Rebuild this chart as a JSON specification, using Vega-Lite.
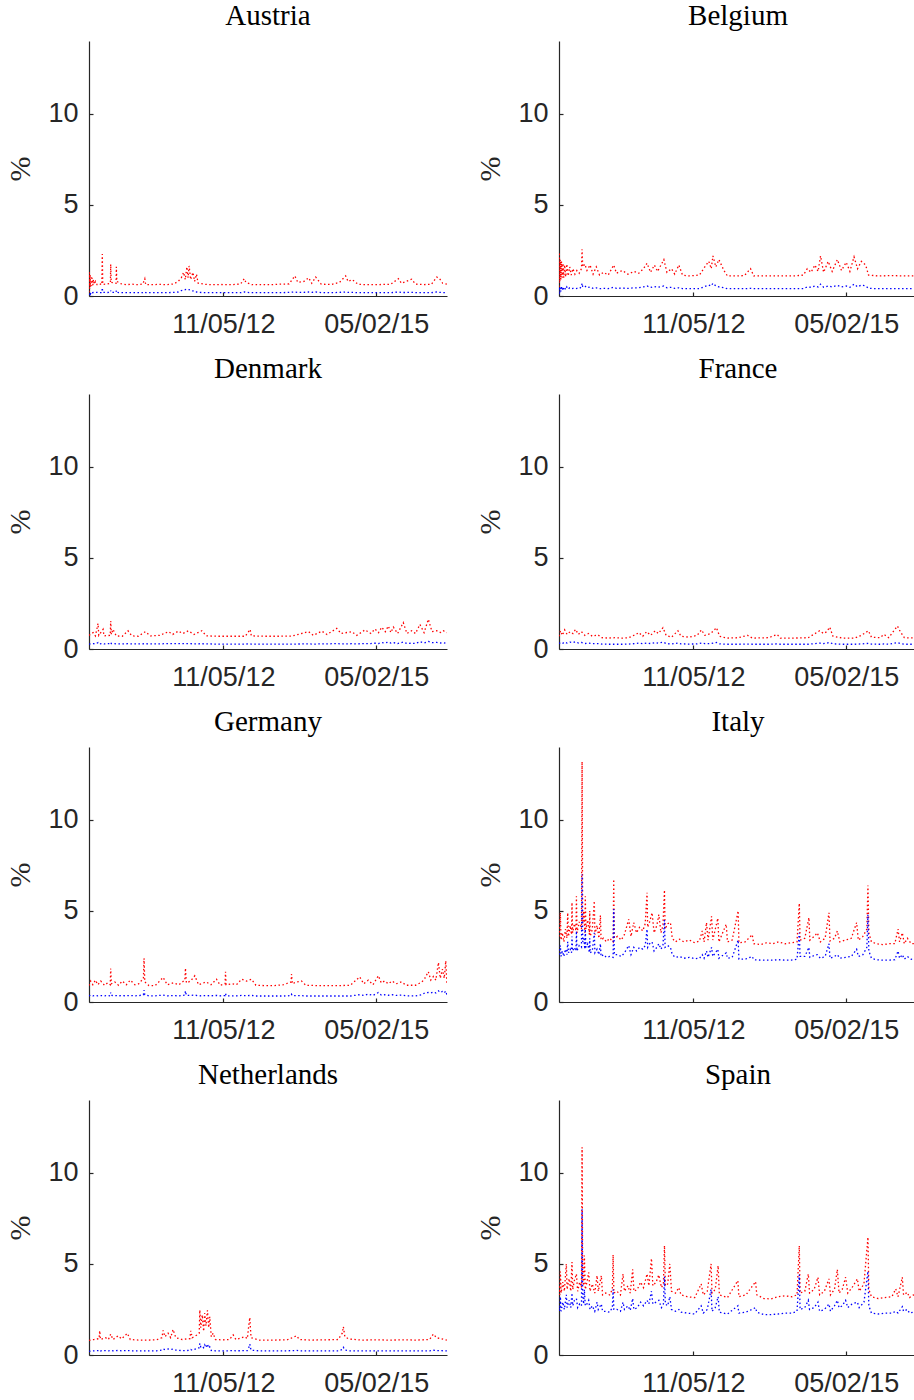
{
"$schema": "https://vega.github.io/schema/vega-lite/v6.json",
"padding": {"left": 5, "top": 2, "right": 0, "bottom": 0},
"background": "white",
"data": {"values": [
{"c":"Austria","d":"2009-12-14","r":0.2,"b":0.05},
{"c":"Austria","d":"2009-12-16","r":1.3,"b":0.1},
{"c":"Austria","d":"2009-12-18","r":0.4,"b":0.15},
{"c":"Austria","d":"2009-12-21","r":1.2,"b":0.2},
{"c":"Austria","d":"2009-12-24","r":0.5,"b":0.12},
{"c":"Austria","d":"2009-12-28","r":1.1,"b":0.22},
{"c":"Austria","d":"2009-12-31","r":0.55,"b":0.18},
{"c":"Austria","d":"2010-01-04","r":1.0,"b":0.2},
{"c":"Austria","d":"2010-01-08","r":0.6,"b":0.18},
{"c":"Austria","d":"2010-01-12","r":0.9,"b":0.2},
{"c":"Austria","d":"2010-01-18","r":0.65,"b":0.2},
{"c":"Austria","d":"2010-01-25","r":0.8,"b":0.2},
{"c":"Austria","d":"2010-02-05","r":0.62,"b":0.2},
{"c":"Austria","d":"2010-02-20","r":0.68,"b":0.18},
{"c":"Austria","d":"2010-03-08","r":0.62,"b":0.18},
{"c":"Austria","d":"2010-03-11","r":2.3,"b":0.45},
{"c":"Austria","d":"2010-03-14","r":0.64,"b":0.2},
{"c":"Austria","d":"2010-04-05","r":0.65,"b":0.19},
{"c":"Austria","d":"2010-05-03","r":0.7,"b":0.2},
{"c":"Austria","d":"2010-05-05","r":1.74,"b":0.3},
{"c":"Austria","d":"2010-05-08","r":0.75,"b":0.2},
{"c":"Austria","d":"2010-06-09","r":0.7,"b":0.2},
{"c":"Austria","d":"2010-06-11","r":1.6,"b":0.3},
{"c":"Austria","d":"2010-06-14","r":0.8,"b":0.2},
{"c":"Austria","d":"2010-07-10","r":0.68,"b":0.18},
{"c":"Austria","d":"2010-08-15","r":0.62,"b":0.18},
{"c":"Austria","d":"2010-09-20","r":0.65,"b":0.18},
{"c":"Austria","d":"2010-10-25","r":0.62,"b":0.18},
{"c":"Austria","d":"2010-12-01","r":0.66,"b":0.18},
{"c":"Austria","d":"2010-12-14","r":0.95,"b":0.22},
{"c":"Austria","d":"2010-12-20","r":0.62,"b":0.18},
{"c":"Austria","d":"2011-02-01","r":0.62,"b":0.18},
{"c":"Austria","d":"2011-03-15","r":0.64,"b":0.18},
{"c":"Austria","d":"2011-05-01","r":0.62,"b":0.18},
{"c":"Austria","d":"2011-06-20","r":0.66,"b":0.2},
{"c":"Austria","d":"2011-07-20","r":0.8,"b":0.22},
{"c":"Austria","d":"2011-08-10","r":1.0,"b":0.3},
{"c":"Austria","d":"2011-08-25","r":1.3,"b":0.32},
{"c":"Austria","d":"2011-09-05","r":0.9,"b":0.35},
{"c":"Austria","d":"2011-09-15","r":1.6,"b":0.38},
{"c":"Austria","d":"2011-09-23","r":1.0,"b":0.36},
{"c":"Austria","d":"2011-09-30","r":1.65,"b":0.35},
{"c":"Austria","d":"2011-10-10","r":0.9,"b":0.3},
{"c":"Austria","d":"2011-10-25","r":1.3,"b":0.28},
{"c":"Austria","d":"2011-11-05","r":0.8,"b":0.22},
{"c":"Austria","d":"2011-11-17","r":1.2,"b":0.22},
{"c":"Austria","d":"2011-11-28","r":0.7,"b":0.2},
{"c":"Austria","d":"2012-01-15","r":0.64,"b":0.18},
{"c":"Austria","d":"2012-03-01","r":0.62,"b":0.18},
{"c":"Austria","d":"2012-05-01","r":0.63,"b":0.18},
{"c":"Austria","d":"2012-07-01","r":0.62,"b":0.18},
{"c":"Austria","d":"2012-09-01","r":0.66,"b":0.18},
{"c":"Austria","d":"2012-09-25","r":0.95,"b":0.22},
{"c":"Austria","d":"2012-10-05","r":0.75,"b":0.2},
{"c":"Austria","d":"2012-11-15","r":0.62,"b":0.18},
{"c":"Austria","d":"2013-01-15","r":0.63,"b":0.18},
{"c":"Austria","d":"2013-03-15","r":0.62,"b":0.18},
{"c":"Austria","d":"2013-05-15","r":0.65,"b":0.18},
{"c":"Austria","d":"2013-07-15","r":0.66,"b":0.2},
{"c":"Austria","d":"2013-08-22","r":1.1,"b":0.22},
{"c":"Austria","d":"2013-09-10","r":0.75,"b":0.2},
{"c":"Austria","d":"2013-10-20","r":0.8,"b":0.2},
{"c":"Austria","d":"2013-11-20","r":1.0,"b":0.22},
{"c":"Austria","d":"2013-12-10","r":0.7,"b":0.2},
{"c":"Austria","d":"2014-01-05","r":1.04,"b":0.22},
{"c":"Austria","d":"2014-02-10","r":0.65,"b":0.19},
{"c":"Austria","d":"2014-04-15","r":0.63,"b":0.18},
{"c":"Austria","d":"2014-06-10","r":0.75,"b":0.2},
{"c":"Austria","d":"2014-07-20","r":1.1,"b":0.22},
{"c":"Austria","d":"2014-08-05","r":0.8,"b":0.2},
{"c":"Austria","d":"2014-09-01","r":0.9,"b":0.2},
{"c":"Austria","d":"2014-10-10","r":0.64,"b":0.18},
{"c":"Austria","d":"2014-12-15","r":0.62,"b":0.18},
{"c":"Austria","d":"2015-03-01","r":0.63,"b":0.18},
{"c":"Austria","d":"2015-05-10","r":0.64,"b":0.18},
{"c":"Austria","d":"2015-06-30","r":0.95,"b":0.22},
{"c":"Austria","d":"2015-07-20","r":0.7,"b":0.19},
{"c":"Austria","d":"2015-09-25","r":0.92,"b":0.2},
{"c":"Austria","d":"2015-10-20","r":0.65,"b":0.18},
{"c":"Austria","d":"2015-12-15","r":0.63,"b":0.18},
{"c":"Austria","d":"2016-02-01","r":0.64,"b":0.18},
{"c":"Austria","d":"2016-03-07","r":1.04,"b":0.22},
{"c":"Austria","d":"2016-03-25","r":0.95,"b":0.2},
{"c":"Austria","d":"2016-04-15","r":0.7,"b":0.19},
{"c":"Austria","d":"2016-05-12","r":0.65,"b":0.18},
{"c":"Belgium","d":"2009-12-14","r":0.5,"b":0.1},
{"c":"Belgium","d":"2009-12-16","r":2.4,"b":0.5},
{"c":"Belgium","d":"2009-12-19","r":0.8,"b":0.2},
{"c":"Belgium","d":"2009-12-22","r":2.0,"b":0.45},
{"c":"Belgium","d":"2009-12-26","r":0.9,"b":0.25},
{"c":"Belgium","d":"2009-12-30","r":1.9,"b":0.55},
{"c":"Belgium","d":"2010-01-04","r":1.0,"b":0.3},
{"c":"Belgium","d":"2010-01-09","r":1.8,"b":0.5},
{"c":"Belgium","d":"2010-01-14","r":1.0,"b":0.35},
{"c":"Belgium","d":"2010-01-20","r":1.7,"b":0.45},
{"c":"Belgium","d":"2010-01-27","r":1.05,"b":0.35},
{"c":"Belgium","d":"2010-02-03","r":1.75,"b":0.5},
{"c":"Belgium","d":"2010-02-12","r":1.1,"b":0.38},
{"c":"Belgium","d":"2010-02-22","r":1.6,"b":0.45},
{"c":"Belgium","d":"2010-03-04","r":1.15,"b":0.4},
{"c":"Belgium","d":"2010-03-15","r":1.5,"b":0.42},
{"c":"Belgium","d":"2010-03-28","r":1.2,"b":0.4},
{"c":"Belgium","d":"2010-04-10","r":1.4,"b":0.42},
{"c":"Belgium","d":"2010-04-25","r":1.25,"b":0.4},
{"c":"Belgium","d":"2010-05-10","r":1.5,"b":0.5},
{"c":"Belgium","d":"2010-05-14","r":2.56,"b":0.7},
{"c":"Belgium","d":"2010-05-18","r":1.6,"b":0.5},
{"c":"Belgium","d":"2010-06-01","r":1.75,"b":0.55},
{"c":"Belgium","d":"2010-06-15","r":1.4,"b":0.45},
{"c":"Belgium","d":"2010-07-05","r":1.7,"b":0.5},
{"c":"Belgium","d":"2010-07-25","r":1.2,"b":0.42},
{"c":"Belgium","d":"2010-08-15","r":1.6,"b":0.45},
{"c":"Belgium","d":"2010-09-05","r":1.15,"b":0.4},
{"c":"Belgium","d":"2010-10-01","r":1.3,"b":0.42},
{"c":"Belgium","d":"2010-11-01","r":1.15,"b":0.4},
{"c":"Belgium","d":"2010-12-07","r":1.7,"b":0.48},
{"c":"Belgium","d":"2010-12-25","r":1.25,"b":0.42},
{"c":"Belgium","d":"2011-02-01","r":1.4,"b":0.43},
{"c":"Belgium","d":"2011-03-10","r":1.2,"b":0.42},
{"c":"Belgium","d":"2011-04-20","r":1.35,"b":0.45},
{"c":"Belgium","d":"2011-05-20","r":1.25,"b":0.45},
{"c":"Belgium","d":"2011-06-20","r":1.5,"b":0.5},
{"c":"Belgium","d":"2011-07-13","r":1.8,"b":0.55},
{"c":"Belgium","d":"2011-08-05","r":1.3,"b":0.47},
{"c":"Belgium","d":"2011-08-30","r":1.7,"b":0.52},
{"c":"Belgium","d":"2011-09-20","r":1.35,"b":0.48},
{"c":"Belgium","d":"2011-10-31","r":2.0,"b":0.55},
{"c":"Belgium","d":"2011-11-20","r":1.3,"b":0.45},
{"c":"Belgium","d":"2011-12-20","r":1.5,"b":0.48},
{"c":"Belgium","d":"2012-01-10","r":1.2,"b":0.42},
{"c":"Belgium","d":"2012-02-06","r":1.7,"b":0.45},
{"c":"Belgium","d":"2012-03-01","r":1.15,"b":0.4},
{"c":"Belgium","d":"2012-04-10","r":1.1,"b":0.4},
{"c":"Belgium","d":"2012-05-14","r":1.12,"b":0.4},
{"c":"Belgium","d":"2012-06-20","r":1.15,"b":0.4},
{"c":"Belgium","d":"2012-07-25","r":1.6,"b":0.52},
{"c":"Belgium","d":"2012-08-20","r":1.9,"b":0.6},
{"c":"Belgium","d":"2012-09-05","r":1.5,"b":0.55},
{"c":"Belgium","d":"2012-09-16","r":2.2,"b":0.7},
{"c":"Belgium","d":"2012-10-05","r":1.6,"b":0.55},
{"c":"Belgium","d":"2012-10-25","r":2.0,"b":0.5},
{"c":"Belgium","d":"2012-11-27","r":1.4,"b":0.45},
{"c":"Belgium","d":"2012-12-20","r":1.1,"b":0.4},
{"c":"Belgium","d":"2013-02-15","r":1.1,"b":0.4},
{"c":"Belgium","d":"2013-04-10","r":1.12,"b":0.4},
{"c":"Belgium","d":"2013-05-20","r":1.5,"b":0.42},
{"c":"Belgium","d":"2013-06-10","r":1.1,"b":0.4},
{"c":"Belgium","d":"2013-09-01","r":1.1,"b":0.4},
{"c":"Belgium","d":"2013-12-01","r":1.1,"b":0.4},
{"c":"Belgium","d":"2014-03-01","r":1.1,"b":0.4},
{"c":"Belgium","d":"2014-05-01","r":1.15,"b":0.4},
{"c":"Belgium","d":"2014-05-26","r":1.5,"b":0.5},
{"c":"Belgium","d":"2014-06-20","r":1.3,"b":0.48},
{"c":"Belgium","d":"2014-07-15","r":1.7,"b":0.55},
{"c":"Belgium","d":"2014-08-05","r":1.35,"b":0.5},
{"c":"Belgium","d":"2014-08-21","r":2.2,"b":0.65},
{"c":"Belgium","d":"2014-09-10","r":1.3,"b":0.48},
{"c":"Belgium","d":"2014-10-10","r":1.9,"b":0.55},
{"c":"Belgium","d":"2014-11-05","r":1.35,"b":0.5},
{"c":"Belgium","d":"2014-12-09","r":2.0,"b":0.58},
{"c":"Belgium","d":"2015-01-05","r":1.4,"b":0.5},
{"c":"Belgium","d":"2015-02-05","r":1.85,"b":0.55},
{"c":"Belgium","d":"2015-03-01","r":1.35,"b":0.48},
{"c":"Belgium","d":"2015-03-28","r":2.15,"b":0.65},
{"c":"Belgium","d":"2015-04-20","r":1.5,"b":0.5},
{"c":"Belgium","d":"2015-05-15","r":1.9,"b":0.6},
{"c":"Belgium","d":"2015-06-12","r":1.7,"b":0.55},
{"c":"Belgium","d":"2015-07-01","r":1.15,"b":0.42},
{"c":"Belgium","d":"2015-09-01","r":1.1,"b":0.4},
{"c":"Belgium","d":"2015-12-01","r":1.12,"b":0.4},
{"c":"Belgium","d":"2016-03-01","r":1.1,"b":0.4},
{"c":"Belgium","d":"2016-05-12","r":1.1,"b":0.4},
{"c":"Denmark","d":"2009-12-14","r":0.75,"b":0.27},
{"c":"Denmark","d":"2010-01-10","r":0.9,"b":0.3},
{"c":"Denmark","d":"2010-01-25","r":0.72,"b":0.28},
{"c":"Denmark","d":"2010-02-11","r":1.4,"b":0.35},
{"c":"Denmark","d":"2010-02-16","r":0.75,"b":0.28},
{"c":"Denmark","d":"2010-03-16","r":1.08,"b":0.3},
{"c":"Denmark","d":"2010-03-22","r":0.72,"b":0.28},
{"c":"Denmark","d":"2010-05-02","r":0.75,"b":0.3},
{"c":"Denmark","d":"2010-05-05","r":1.54,"b":0.36},
{"c":"Denmark","d":"2010-05-09","r":0.8,"b":0.3},
{"c":"Denmark","d":"2010-05-20","r":1.08,"b":0.3},
{"c":"Denmark","d":"2010-06-10","r":0.72,"b":0.28},
{"c":"Denmark","d":"2010-07-20","r":0.7,"b":0.28},
{"c":"Denmark","d":"2010-08-26","r":1.0,"b":0.29},
{"c":"Denmark","d":"2010-09-20","r":0.72,"b":0.28},
{"c":"Denmark","d":"2010-11-01","r":0.7,"b":0.28},
{"c":"Denmark","d":"2010-12-18","r":0.95,"b":0.29},
{"c":"Denmark","d":"2011-01-20","r":0.72,"b":0.28},
{"c":"Denmark","d":"2011-03-20","r":0.75,"b":0.28},
{"c":"Denmark","d":"2011-05-18","r":0.95,"b":0.3},
{"c":"Denmark","d":"2011-06-15","r":0.8,"b":0.29},
{"c":"Denmark","d":"2011-07-22","r":0.98,"b":0.3},
{"c":"Denmark","d":"2011-08-20","r":0.85,"b":0.29},
{"c":"Denmark","d":"2011-09-25","r":1.0,"b":0.3},
{"c":"Denmark","d":"2011-11-01","r":0.8,"b":0.28},
{"c":"Denmark","d":"2011-12-22","r":1.0,"b":0.29},
{"c":"Denmark","d":"2012-01-20","r":0.72,"b":0.28},
{"c":"Denmark","d":"2012-04-01","r":0.7,"b":0.27},
{"c":"Denmark","d":"2012-07-01","r":0.7,"b":0.27},
{"c":"Denmark","d":"2012-10-01","r":0.7,"b":0.27},
{"c":"Denmark","d":"2012-11-02","r":1.08,"b":0.29},
{"c":"Denmark","d":"2012-11-10","r":0.72,"b":0.27},
{"c":"Denmark","d":"2013-02-01","r":0.7,"b":0.27},
{"c":"Denmark","d":"2013-05-01","r":0.7,"b":0.27},
{"c":"Denmark","d":"2013-08-01","r":0.71,"b":0.27},
{"c":"Denmark","d":"2013-11-19","r":0.95,"b":0.28},
{"c":"Denmark","d":"2013-12-20","r":0.75,"b":0.27},
{"c":"Denmark","d":"2014-02-14","r":0.98,"b":0.28},
{"c":"Denmark","d":"2014-03-20","r":0.8,"b":0.28},
{"c":"Denmark","d":"2014-05-23","r":1.13,"b":0.3},
{"c":"Denmark","d":"2014-06-20","r":0.85,"b":0.28},
{"c":"Denmark","d":"2014-08-29","r":0.95,"b":0.29},
{"c":"Denmark","d":"2014-10-01","r":0.75,"b":0.28},
{"c":"Denmark","d":"2014-11-24","r":1.05,"b":0.3},
{"c":"Denmark","d":"2015-01-01","r":0.85,"b":0.3},
{"c":"Denmark","d":"2015-01-28","r":1.1,"b":0.32},
{"c":"Denmark","d":"2015-02-20","r":0.9,"b":0.3},
{"c":"Denmark","d":"2015-03-13","r":1.2,"b":0.35},
{"c":"Denmark","d":"2015-04-05","r":0.95,"b":0.33},
{"c":"Denmark","d":"2015-04-25","r":1.26,"b":0.38},
{"c":"Denmark","d":"2015-05-12","r":0.9,"b":0.32},
{"c":"Denmark","d":"2015-05-28","r":1.2,"b":0.35},
{"c":"Denmark","d":"2015-06-25","r":0.85,"b":0.3},
{"c":"Denmark","d":"2015-08-01","r":1.45,"b":0.38},
{"c":"Denmark","d":"2015-08-25","r":0.85,"b":0.3},
{"c":"Denmark","d":"2015-09-25","r":1.0,"b":0.32},
{"c":"Denmark","d":"2015-10-20","r":0.85,"b":0.3},
{"c":"Denmark","d":"2015-11-18","r":1.35,"b":0.4},
{"c":"Denmark","d":"2015-12-15","r":0.9,"b":0.33},
{"c":"Denmark","d":"2016-01-12","r":1.63,"b":0.42},
{"c":"Denmark","d":"2016-02-05","r":0.95,"b":0.35},
{"c":"Denmark","d":"2016-03-07","r":1.0,"b":0.36},
{"c":"Denmark","d":"2016-04-01","r":0.9,"b":0.33},
{"c":"Denmark","d":"2016-04-19","r":1.0,"b":0.35},
{"c":"Denmark","d":"2016-05-12","r":0.9,"b":0.3},
{"c":"France","d":"2009-12-14","r":0.7,"b":0.3},
{"c":"France","d":"2009-12-24","r":1.0,"b":0.35},
{"c":"France","d":"2010-01-05","r":0.75,"b":0.3},
{"c":"France","d":"2010-01-20","r":1.05,"b":0.38},
{"c":"France","d":"2010-02-05","r":0.8,"b":0.32},
{"c":"France","d":"2010-02-25","r":0.95,"b":0.38},
{"c":"France","d":"2010-03-15","r":0.85,"b":0.35},
{"c":"France","d":"2010-04-01","r":1.08,"b":0.4},
{"c":"France","d":"2010-04-20","r":0.8,"b":0.33},
{"c":"France","d":"2010-05-10","r":0.95,"b":0.36},
{"c":"France","d":"2010-06-01","r":0.75,"b":0.3},
{"c":"France","d":"2010-06-25","r":0.85,"b":0.32},
{"c":"France","d":"2010-07-20","r":0.7,"b":0.3},
{"c":"France","d":"2010-08-25","r":0.78,"b":0.3},
{"c":"France","d":"2010-09-20","r":0.62,"b":0.27},
{"c":"France","d":"2010-11-01","r":0.6,"b":0.26},
{"c":"France","d":"2010-12-15","r":0.62,"b":0.26},
{"c":"France","d":"2011-02-01","r":0.6,"b":0.26},
{"c":"France","d":"2011-03-15","r":0.62,"b":0.27},
{"c":"France","d":"2011-05-01","r":0.8,"b":0.3},
{"c":"France","d":"2011-05-20","r":0.9,"b":0.32},
{"c":"France","d":"2011-06-15","r":0.7,"b":0.29},
{"c":"France","d":"2011-07-10","r":0.95,"b":0.33},
{"c":"France","d":"2011-08-05","r":0.75,"b":0.3},
{"c":"France","d":"2011-09-05","r":1.0,"b":0.35},
{"c":"France","d":"2011-09-25","r":0.85,"b":0.32},
{"c":"France","d":"2011-10-25","r":1.17,"b":0.38},
{"c":"France","d":"2011-11-15","r":0.75,"b":0.3},
{"c":"France","d":"2011-12-20","r":0.65,"b":0.27},
{"c":"France","d":"2012-01-31","r":1.0,"b":0.33},
{"c":"France","d":"2012-02-20","r":0.7,"b":0.28},
{"c":"France","d":"2012-04-15","r":0.65,"b":0.27},
{"c":"France","d":"2012-06-05","r":0.75,"b":0.28},
{"c":"France","d":"2012-07-03","r":1.05,"b":0.33},
{"c":"France","d":"2012-07-25","r":0.75,"b":0.29},
{"c":"France","d":"2012-09-01","r":0.85,"b":0.3},
{"c":"France","d":"2012-09-20","r":1.0,"b":0.33},
{"c":"France","d":"2012-10-09","r":1.17,"b":0.36},
{"c":"France","d":"2012-10-30","r":0.7,"b":0.28},
{"c":"France","d":"2012-12-15","r":0.6,"b":0.26},
{"c":"France","d":"2013-03-01","r":0.62,"b":0.26},
{"c":"France","d":"2013-05-01","r":0.75,"b":0.27},
{"c":"France","d":"2013-06-01","r":0.6,"b":0.26},
{"c":"France","d":"2013-09-15","r":0.62,"b":0.26},
{"c":"France","d":"2013-11-10","r":0.8,"b":0.28},
{"c":"France","d":"2013-12-01","r":0.6,"b":0.26},
{"c":"France","d":"2014-03-01","r":0.6,"b":0.26},
{"c":"France","d":"2014-06-01","r":0.62,"b":0.26},
{"c":"France","d":"2014-08-15","r":1.0,"b":0.32},
{"c":"France","d":"2014-09-10","r":0.85,"b":0.3},
{"c":"France","d":"2014-10-01","r":0.95,"b":0.32},
{"c":"France","d":"2014-10-20","r":1.2,"b":0.36},
{"c":"France","d":"2014-11-10","r":0.7,"b":0.28},
{"c":"France","d":"2015-01-15","r":0.6,"b":0.26},
{"c":"France","d":"2015-04-01","r":0.6,"b":0.26},
{"c":"France","d":"2015-05-15","r":0.75,"b":0.28},
{"c":"France","d":"2015-06-30","r":1.0,"b":0.31},
{"c":"France","d":"2015-07-20","r":0.65,"b":0.27},
{"c":"France","d":"2015-09-15","r":0.62,"b":0.26},
{"c":"France","d":"2015-10-10","r":0.8,"b":0.28},
{"c":"France","d":"2015-11-10","r":0.62,"b":0.26},
{"c":"France","d":"2016-01-06","r":1.26,"b":0.35},
{"c":"France","d":"2016-01-25","r":0.95,"b":0.3},
{"c":"France","d":"2016-02-20","r":0.62,"b":0.26},
{"c":"France","d":"2016-05-12","r":0.6,"b":0.26},
{"c":"Germany","d":"2009-12-14","r":0.9,"b":0.33},
{"c":"Germany","d":"2009-12-25","r":1.15,"b":0.38},
{"c":"Germany","d":"2010-01-08","r":0.95,"b":0.34},
{"c":"Germany","d":"2010-01-25","r":1.2,"b":0.36},
{"c":"Germany","d":"2010-02-10","r":0.95,"b":0.34},
{"c":"Germany","d":"2010-03-01","r":1.15,"b":0.35},
{"c":"Germany","d":"2010-03-25","r":0.92,"b":0.34},
{"c":"Germany","d":"2010-04-15","r":1.05,"b":0.35},
{"c":"Germany","d":"2010-05-02","r":0.95,"b":0.34},
{"c":"Germany","d":"2010-05-05","r":1.84,"b":0.52},
{"c":"Germany","d":"2010-05-09","r":1.0,"b":0.36},
{"c":"Germany","d":"2010-06-01","r":1.1,"b":0.35},
{"c":"Germany","d":"2010-06-25","r":0.92,"b":0.34},
{"c":"Germany","d":"2010-07-20","r":1.15,"b":0.35},
{"c":"Germany","d":"2010-08-15","r":0.95,"b":0.34},
{"c":"Germany","d":"2010-09-10","r":1.2,"b":0.36},
{"c":"Germany","d":"2010-10-10","r":0.95,"b":0.34},
{"c":"Germany","d":"2010-11-05","r":1.0,"b":0.35},
{"c":"Germany","d":"2010-12-05","r":1.3,"b":0.4},
{"c":"Germany","d":"2010-12-09","r":2.4,"b":0.65},
{"c":"Germany","d":"2010-12-14","r":1.1,"b":0.4},
{"c":"Germany","d":"2011-01-10","r":0.9,"b":0.34},
{"c":"Germany","d":"2011-02-20","r":0.9,"b":0.34},
{"c":"Germany","d":"2011-04-13","r":1.35,"b":0.38},
{"c":"Germany","d":"2011-05-10","r":0.95,"b":0.34},
{"c":"Germany","d":"2011-06-20","r":1.05,"b":0.35},
{"c":"Germany","d":"2011-07-25","r":0.95,"b":0.34},
{"c":"Germany","d":"2011-09-02","r":1.2,"b":0.38},
{"c":"Germany","d":"2011-09-06","r":1.86,"b":0.61},
{"c":"Germany","d":"2011-09-12","r":1.05,"b":0.36},
{"c":"Germany","d":"2011-10-10","r":1.15,"b":0.36},
{"c":"Germany","d":"2011-11-06","r":1.44,"b":0.38},
{"c":"Germany","d":"2011-12-01","r":0.95,"b":0.34},
{"c":"Germany","d":"2012-01-20","r":1.1,"b":0.35},
{"c":"Germany","d":"2012-02-20","r":0.95,"b":0.34},
{"c":"Germany","d":"2012-03-27","r":1.25,"b":0.36},
{"c":"Germany","d":"2012-04-20","r":0.92,"b":0.34},
{"c":"Germany","d":"2012-05-22","r":1.0,"b":0.35},
{"c":"Germany","d":"2012-05-25","r":1.66,"b":0.47},
{"c":"Germany","d":"2012-05-29","r":0.95,"b":0.34},
{"c":"Germany","d":"2012-07-05","r":1.0,"b":0.34},
{"c":"Germany","d":"2012-08-05","r":0.95,"b":0.34},
{"c":"Germany","d":"2012-09-07","r":1.25,"b":0.36},
{"c":"Germany","d":"2012-10-10","r":1.15,"b":0.35},
{"c":"Germany","d":"2012-11-11","r":1.25,"b":0.36},
{"c":"Germany","d":"2012-12-10","r":0.92,"b":0.33},
{"c":"Germany","d":"2013-02-10","r":0.9,"b":0.33},
{"c":"Germany","d":"2013-04-10","r":0.9,"b":0.33},
{"c":"Germany","d":"2013-06-10","r":0.95,"b":0.33},
{"c":"Germany","d":"2013-07-28","r":1.1,"b":0.35},
{"c":"Germany","d":"2013-07-31","r":1.53,"b":0.42},
{"c":"Germany","d":"2013-08-05","r":1.0,"b":0.34},
{"c":"Germany","d":"2013-09-01","r":1.1,"b":0.35},
{"c":"Germany","d":"2013-10-04","r":1.15,"b":0.35},
{"c":"Germany","d":"2013-11-01","r":0.92,"b":0.33},
{"c":"Germany","d":"2014-01-15","r":0.9,"b":0.33},
{"c":"Germany","d":"2014-04-01","r":0.9,"b":0.33},
{"c":"Germany","d":"2014-06-15","r":0.9,"b":0.33},
{"c":"Germany","d":"2014-08-20","r":0.92,"b":0.33},
{"c":"Germany","d":"2014-10-20","r":1.38,"b":0.4},
{"c":"Germany","d":"2014-11-15","r":1.0,"b":0.36},
{"c":"Germany","d":"2014-12-15","r":1.2,"b":0.43},
{"c":"Germany","d":"2015-01-15","r":0.95,"b":0.36},
{"c":"Germany","d":"2015-02-19","r":1.44,"b":0.52},
{"c":"Germany","d":"2015-03-10","r":1.05,"b":0.38},
{"c":"Germany","d":"2015-04-01","r":1.15,"b":0.4},
{"c":"Germany","d":"2015-04-25","r":1.0,"b":0.37},
{"c":"Germany","d":"2015-05-20","r":1.15,"b":0.4},
{"c":"Germany","d":"2015-06-15","r":1.0,"b":0.36},
{"c":"Germany","d":"2015-07-20","r":1.1,"b":0.38},
{"c":"Germany","d":"2015-08-20","r":0.92,"b":0.34},
{"c":"Germany","d":"2015-10-20","r":0.92,"b":0.34},
{"c":"Germany","d":"2015-12-01","r":1.1,"b":0.4},
{"c":"Germany","d":"2015-12-20","r":1.3,"b":0.5},
{"c":"Germany","d":"2016-01-12","r":1.66,"b":0.52},
{"c":"Germany","d":"2016-01-28","r":1.2,"b":0.5},
{"c":"Germany","d":"2016-02-14","r":1.4,"b":0.55},
{"c":"Germany","d":"2016-03-01","r":1.2,"b":0.5},
{"c":"Germany","d":"2016-03-18","r":2.17,"b":0.61},
{"c":"Germany","d":"2016-03-30","r":1.3,"b":0.52},
{"c":"Germany","d":"2016-04-13","r":1.8,"b":0.58},
{"c":"Germany","d":"2016-04-25","r":1.3,"b":0.5},
{"c":"Germany","d":"2016-05-05","r":2.26,"b":0.6},
{"c":"Germany","d":"2016-05-12","r":1.05,"b":0.4},
{"c":"Italy","d":"2009-12-14","r":3.6,"b":2.6},
{"c":"Italy","d":"2009-12-20","r":4.2,"b":2.9},
{"c":"Italy","d":"2009-12-23","r":4.9,"b":3.1},
{"c":"Italy","d":"2009-12-27","r":3.4,"b":2.5},
{"c":"Italy","d":"2010-01-05","r":3.8,"b":2.8},
{"c":"Italy","d":"2010-01-15","r":3.3,"b":2.5},
{"c":"Italy","d":"2010-01-25","r":4.0,"b":2.9},
{"c":"Italy","d":"2010-02-04","r":3.5,"b":2.6},
{"c":"Italy","d":"2010-02-09","r":4.9,"b":3.3},
{"c":"Italy","d":"2010-02-14","r":3.6,"b":2.7},
{"c":"Italy","d":"2010-02-25","r":4.2,"b":2.9},
{"c":"Italy","d":"2010-03-06","r":3.7,"b":2.7},
{"c":"Italy","d":"2010-03-09","r":5.46,"b":3.6},
{"c":"Italy","d":"2010-03-13","r":3.8,"b":2.8},
{"c":"Italy","d":"2010-03-25","r":4.3,"b":3.0},
{"c":"Italy","d":"2010-04-04","r":3.9,"b":2.8},
{"c":"Italy","d":"2010-04-07","r":5.8,"b":3.9},
{"c":"Italy","d":"2010-04-11","r":3.8,"b":2.8},
{"c":"Italy","d":"2010-04-25","r":4.4,"b":3.1},
{"c":"Italy","d":"2010-05-10","r":4.0,"b":3.0},
{"c":"Italy","d":"2010-05-14","r":13.2,"b":7.0},
{"c":"Italy","d":"2010-05-18","r":4.3,"b":3.3},
{"c":"Italy","d":"2010-05-25","r":5.0,"b":3.5},
{"c":"Italy","d":"2010-06-01","r":3.8,"b":2.9},
{"c":"Italy","d":"2010-06-04","r":5.8,"b":4.0},
{"c":"Italy","d":"2010-06-08","r":4.0,"b":3.0},
{"c":"Italy","d":"2010-06-20","r":4.5,"b":3.2},
{"c":"Italy","d":"2010-07-01","r":3.7,"b":2.7},
{"c":"Italy","d":"2010-07-03","r":5.0,"b":3.5},
{"c":"Italy","d":"2010-07-06","r":3.6,"b":2.7},
{"c":"Italy","d":"2010-07-20","r":4.0,"b":2.8},
{"c":"Italy","d":"2010-08-02","r":5.55,"b":3.8},
{"c":"Italy","d":"2010-08-06","r":3.7,"b":2.7},
{"c":"Italy","d":"2010-08-20","r":4.2,"b":2.9},
{"c":"Italy","d":"2010-09-01","r":3.5,"b":2.6},
{"c":"Italy","d":"2010-09-11","r":4.76,"b":3.2},
{"c":"Italy","d":"2010-09-15","r":3.4,"b":2.5},
{"c":"Italy","d":"2010-10-01","r":3.5,"b":2.6},
{"c":"Italy","d":"2010-10-20","r":3.3,"b":2.45},
{"c":"Italy","d":"2010-11-10","r":3.5,"b":2.5},
{"c":"Italy","d":"2010-12-03","r":3.3,"b":2.45},
{"c":"Italy","d":"2010-12-07","r":6.74,"b":5.1},
{"c":"Italy","d":"2010-12-11","r":3.5,"b":2.6},
{"c":"Italy","d":"2011-01-01","r":3.6,"b":2.6},
{"c":"Italy","d":"2011-01-25","r":3.4,"b":2.5},
{"c":"Italy","d":"2011-02-15","r":3.7,"b":2.7},
{"c":"Italy","d":"2011-03-15","r":4.54,"b":3.1},
{"c":"Italy","d":"2011-03-30","r":3.6,"b":2.6},
{"c":"Italy","d":"2011-04-17","r":4.36,"b":3.0},
{"c":"Italy","d":"2011-05-05","r":3.8,"b":2.8},
{"c":"Italy","d":"2011-05-25","r":4.1,"b":3.0},
{"c":"Italy","d":"2011-06-15","r":3.9,"b":2.9},
{"c":"Italy","d":"2011-07-01","r":4.3,"b":3.1},
{"c":"Italy","d":"2011-07-13","r":6.0,"b":4.0},
{"c":"Italy","d":"2011-07-17","r":4.1,"b":3.0},
{"c":"Italy","d":"2011-07-30","r":4.4,"b":3.2},
{"c":"Italy","d":"2011-08-15","r":4.9,"b":3.3},
{"c":"Italy","d":"2011-08-28","r":3.8,"b":2.8},
{"c":"Italy","d":"2011-09-15","r":4.2,"b":3.0},
{"c":"Italy","d":"2011-09-28","r":4.8,"b":3.2},
{"c":"Italy","d":"2011-10-12","r":3.8,"b":2.9},
{"c":"Italy","d":"2011-10-25","r":4.2,"b":3.1},
{"c":"Italy","d":"2011-11-04","r":6.15,"b":4.5},
{"c":"Italy","d":"2011-11-08","r":4.0,"b":3.0},
{"c":"Italy","d":"2011-11-25","r":4.3,"b":3.1},
{"c":"Italy","d":"2011-12-13","r":4.36,"b":3.0},
{"c":"Italy","d":"2011-12-25","r":3.5,"b":2.6},
{"c":"Italy","d":"2012-01-15","r":3.3,"b":2.45},
{"c":"Italy","d":"2012-02-10","r":3.45,"b":2.5},
{"c":"Italy","d":"2012-03-10","r":3.3,"b":2.4},
{"c":"Italy","d":"2012-04-15","r":3.4,"b":2.45},
{"c":"Italy","d":"2012-05-20","r":3.25,"b":2.38},
{"c":"Italy","d":"2012-06-20","r":3.35,"b":2.4},
{"c":"Italy","d":"2012-07-08","r":3.9,"b":2.6},
{"c":"Italy","d":"2012-07-20","r":3.3,"b":2.4},
{"c":"Italy","d":"2012-08-05","r":4.36,"b":2.8},
{"c":"Italy","d":"2012-08-15","r":3.4,"b":2.45},
{"c":"Italy","d":"2012-09-07","r":4.7,"b":3.0},
{"c":"Italy","d":"2012-09-15","r":3.4,"b":2.5},
{"c":"Italy","d":"2012-10-18","r":4.6,"b":2.9},
{"c":"Italy","d":"2012-10-25","r":3.3,"b":2.4},
{"c":"Italy","d":"2012-12-12","r":4.27,"b":2.7},
{"c":"Italy","d":"2012-12-20","r":3.3,"b":2.4},
{"c":"Italy","d":"2013-01-20","r":3.4,"b":2.45},
{"c":"Italy","d":"2013-02-28","r":5.0,"b":3.4},
{"c":"Italy","d":"2013-03-05","r":3.25,"b":2.35},
{"c":"Italy","d":"2013-04-15","r":3.3,"b":2.35},
{"c":"Italy","d":"2013-05-31","r":3.7,"b":2.5},
{"c":"Italy","d":"2013-06-10","r":3.2,"b":2.32},
{"c":"Italy","d":"2013-07-25","r":3.15,"b":2.3},
{"c":"Italy","d":"2013-09-01","r":3.25,"b":2.3},
{"c":"Italy","d":"2013-10-15","r":3.2,"b":2.3},
{"c":"Italy","d":"2013-11-20","r":3.3,"b":2.32},
{"c":"Italy","d":"2014-01-01","r":3.2,"b":2.3},
{"c":"Italy","d":"2014-02-10","r":3.25,"b":2.3},
{"c":"Italy","d":"2014-03-20","r":3.3,"b":2.35},
{"c":"Italy","d":"2014-04-04","r":5.42,"b":3.8},
{"c":"Italy","d":"2014-04-09","r":3.4,"b":2.5},
{"c":"Italy","d":"2014-05-10","r":3.5,"b":2.5},
{"c":"Italy","d":"2014-06-06","r":4.63,"b":3.0},
{"c":"Italy","d":"2014-06-12","r":3.4,"b":2.45},
{"c":"Italy","d":"2014-07-10","r":3.6,"b":2.55},
{"c":"Italy","d":"2014-07-31","r":3.8,"b":2.6},
{"c":"Italy","d":"2014-08-20","r":3.3,"b":2.4},
{"c":"Italy","d":"2014-09-20","r":3.5,"b":2.5},
{"c":"Italy","d":"2014-10-15","r":4.9,"b":3.2},
{"c":"Italy","d":"2014-10-22","r":3.35,"b":2.4},
{"c":"Italy","d":"2014-11-20","r":3.5,"b":2.5},
{"c":"Italy","d":"2014-12-09","r":3.9,"b":2.6},
{"c":"Italy","d":"2014-12-25","r":3.3,"b":2.4},
{"c":"Italy","d":"2015-02-01","r":3.4,"b":2.45},
{"c":"Italy","d":"2015-03-10","r":3.5,"b":2.5},
{"c":"Italy","d":"2015-04-14","r":4.36,"b":2.9},
{"c":"Italy","d":"2015-04-25","r":3.4,"b":2.5},
{"c":"Italy","d":"2015-05-25","r":3.6,"b":2.6},
{"c":"Italy","d":"2015-06-20","r":4.0,"b":3.0},
{"c":"Italy","d":"2015-06-27","r":6.4,"b":4.8},
{"c":"Italy","d":"2015-07-03","r":3.8,"b":2.8},
{"c":"Italy","d":"2015-07-20","r":3.3,"b":2.4},
{"c":"Italy","d":"2015-08-20","r":3.2,"b":2.32},
{"c":"Italy","d":"2015-10-01","r":3.15,"b":2.3},
{"c":"Italy","d":"2015-11-15","r":3.2,"b":2.3},
{"c":"Italy","d":"2015-12-20","r":3.2,"b":2.32},
{"c":"Italy","d":"2016-01-10","r":4.0,"b":2.8},
{"c":"Italy","d":"2016-01-20","r":3.3,"b":2.4},
{"c":"Italy","d":"2016-02-07","r":3.8,"b":2.6},
{"c":"Italy","d":"2016-02-20","r":3.2,"b":2.35},
{"c":"Italy","d":"2016-03-11","r":3.5,"b":2.5},
{"c":"Italy","d":"2016-04-05","r":3.2,"b":2.35},
{"c":"Italy","d":"2016-05-12","r":3.2,"b":2.3},
{"c":"Netherlands","d":"2009-12-14","r":0.8,"b":0.2},
{"c":"Netherlands","d":"2010-01-15","r":0.85,"b":0.23},
{"c":"Netherlands","d":"2010-02-18","r":0.9,"b":0.24},
{"c":"Netherlands","d":"2010-02-22","r":1.33,"b":0.28},
{"c":"Netherlands","d":"2010-02-27","r":0.85,"b":0.23},
{"c":"Netherlands","d":"2010-04-01","r":0.95,"b":0.24},
{"c":"Netherlands","d":"2010-04-20","r":0.85,"b":0.23},
{"c":"Netherlands","d":"2010-05-05","r":1.15,"b":0.26},
{"c":"Netherlands","d":"2010-05-20","r":0.85,"b":0.23},
{"c":"Netherlands","d":"2010-06-22","r":1.05,"b":0.25},
{"c":"Netherlands","d":"2010-07-15","r":0.88,"b":0.23},
{"c":"Netherlands","d":"2010-08-22","r":1.19,"b":0.25},
{"c":"Netherlands","d":"2010-09-10","r":0.85,"b":0.23},
{"c":"Netherlands","d":"2010-11-01","r":0.82,"b":0.23},
{"c":"Netherlands","d":"2011-01-01","r":0.82,"b":0.23},
{"c":"Netherlands","d":"2011-03-01","r":0.83,"b":0.23},
{"c":"Netherlands","d":"2011-04-05","r":0.95,"b":0.27},
{"c":"Netherlands","d":"2011-04-13","r":1.35,"b":0.33},
{"c":"Netherlands","d":"2011-04-25","r":1.0,"b":0.3},
{"c":"Netherlands","d":"2011-05-15","r":1.2,"b":0.33},
{"c":"Netherlands","d":"2011-06-01","r":0.95,"b":0.3},
{"c":"Netherlands","d":"2011-06-17","r":1.4,"b":0.32},
{"c":"Netherlands","d":"2011-07-05","r":0.95,"b":0.27},
{"c":"Netherlands","d":"2011-08-15","r":0.85,"b":0.24},
{"c":"Netherlands","d":"2011-10-05","r":0.9,"b":0.25},
{"c":"Netherlands","d":"2011-10-11","r":1.33,"b":0.3},
{"c":"Netherlands","d":"2011-10-20","r":0.95,"b":0.26},
{"c":"Netherlands","d":"2011-11-20","r":1.1,"b":0.35},
{"c":"Netherlands","d":"2011-12-05","r":1.2,"b":0.4},
{"c":"Netherlands","d":"2011-12-09","r":2.47,"b":0.64},
{"c":"Netherlands","d":"2011-12-15","r":1.5,"b":0.45},
{"c":"Netherlands","d":"2011-12-25","r":2.2,"b":0.5},
{"c":"Netherlands","d":"2012-01-03","r":1.3,"b":0.4},
{"c":"Netherlands","d":"2012-01-10","r":2.3,"b":0.55},
{"c":"Netherlands","d":"2012-01-18","r":1.6,"b":0.4},
{"c":"Netherlands","d":"2012-01-28","r":2.45,"b":0.6},
{"c":"Netherlands","d":"2012-02-05","r":1.5,"b":0.38},
{"c":"Netherlands","d":"2012-02-12","r":2.1,"b":0.45},
{"c":"Netherlands","d":"2012-02-22","r":1.0,"b":0.25},
{"c":"Netherlands","d":"2012-03-05","r":1.2,"b":0.26},
{"c":"Netherlands","d":"2012-03-20","r":0.85,"b":0.23},
{"c":"Netherlands","d":"2012-05-01","r":0.83,"b":0.23},
{"c":"Netherlands","d":"2012-06-20","r":0.85,"b":0.23},
{"c":"Netherlands","d":"2012-07-14","r":1.1,"b":0.25},
{"c":"Netherlands","d":"2012-08-01","r":0.85,"b":0.23},
{"c":"Netherlands","d":"2012-09-28","r":1.0,"b":0.24},
{"c":"Netherlands","d":"2012-10-15","r":0.9,"b":0.24},
{"c":"Netherlands","d":"2012-10-24","r":1.6,"b":0.4},
{"c":"Netherlands","d":"2012-10-31","r":2.06,"b":0.6},
{"c":"Netherlands","d":"2012-11-08","r":0.95,"b":0.26},
{"c":"Netherlands","d":"2013-01-01","r":0.82,"b":0.23},
{"c":"Netherlands","d":"2013-04-01","r":0.82,"b":0.23},
{"c":"Netherlands","d":"2013-07-01","r":0.83,"b":0.23},
{"c":"Netherlands","d":"2013-09-02","r":1.05,"b":0.25},
{"c":"Netherlands","d":"2013-09-20","r":0.85,"b":0.23},
{"c":"Netherlands","d":"2013-12-01","r":0.82,"b":0.23},
{"c":"Netherlands","d":"2014-03-01","r":0.83,"b":0.23},
{"c":"Netherlands","d":"2014-06-01","r":0.85,"b":0.23},
{"c":"Netherlands","d":"2014-06-28","r":1.2,"b":0.3},
{"c":"Netherlands","d":"2014-07-05","r":1.55,"b":0.42},
{"c":"Netherlands","d":"2014-07-15","r":1.0,"b":0.27},
{"c":"Netherlands","d":"2014-08-10","r":0.88,"b":0.23},
{"c":"Netherlands","d":"2014-11-01","r":0.82,"b":0.23},
{"c":"Netherlands","d":"2015-02-01","r":0.83,"b":0.23},
{"c":"Netherlands","d":"2015-05-01","r":0.82,"b":0.23},
{"c":"Netherlands","d":"2015-08-01","r":0.83,"b":0.23},
{"c":"Netherlands","d":"2015-11-01","r":0.82,"b":0.23},
{"c":"Netherlands","d":"2016-01-20","r":0.85,"b":0.23},
{"c":"Netherlands","d":"2016-02-14","r":1.15,"b":0.26},
{"c":"Netherlands","d":"2016-03-05","r":0.95,"b":0.24},
{"c":"Netherlands","d":"2016-05-12","r":0.82,"b":0.23},
{"c":"Spain","d":"2009-12-14","r":3.8,"b":2.6},
{"c":"Spain","d":"2009-12-19","r":3.3,"b":2.4},
{"c":"Spain","d":"2009-12-23","r":4.58,"b":3.2},
{"c":"Spain","d":"2009-12-28","r":3.4,"b":2.4},
{"c":"Spain","d":"2010-01-08","r":4.0,"b":2.9},
{"c":"Spain","d":"2010-01-18","r":3.5,"b":2.5},
{"c":"Spain","d":"2010-01-31","r":5.0,"b":3.3},
{"c":"Spain","d":"2010-02-05","r":3.6,"b":2.6},
{"c":"Spain","d":"2010-02-18","r":4.2,"b":3.0},
{"c":"Spain","d":"2010-03-01","r":3.5,"b":2.6},
{"c":"Spain","d":"2010-03-09","r":5.1,"b":3.4},
{"c":"Spain","d":"2010-03-14","r":3.6,"b":2.7},
{"c":"Spain","d":"2010-03-25","r":4.1,"b":3.0},
{"c":"Spain","d":"2010-04-07","r":4.45,"b":3.1},
{"c":"Spain","d":"2010-04-15","r":3.5,"b":2.6},
{"c":"Spain","d":"2010-04-28","r":4.0,"b":2.8},
{"c":"Spain","d":"2010-05-10","r":3.7,"b":2.7},
{"c":"Spain","d":"2010-05-14","r":11.4,"b":8.0},
{"c":"Spain","d":"2010-05-18","r":4.2,"b":3.3},
{"c":"Spain","d":"2010-05-24","r":3.8,"b":2.8},
{"c":"Spain","d":"2010-05-29","r":5.46,"b":3.6},
{"c":"Spain","d":"2010-06-04","r":3.6,"b":2.7},
{"c":"Spain","d":"2010-06-15","r":4.0,"b":2.8},
{"c":"Spain","d":"2010-06-26","r":4.54,"b":3.0},
{"c":"Spain","d":"2010-07-05","r":3.5,"b":2.5},
{"c":"Spain","d":"2010-07-20","r":3.9,"b":2.7},
{"c":"Spain","d":"2010-08-05","r":3.4,"b":2.4},
{"c":"Spain","d":"2010-08-20","r":4.36,"b":2.9},
{"c":"Spain","d":"2010-08-28","r":3.5,"b":2.5},
{"c":"Spain","d":"2010-09-17","r":4.36,"b":2.8},
{"c":"Spain","d":"2010-09-25","r":3.3,"b":2.4},
{"c":"Spain","d":"2010-10-15","r":3.4,"b":2.4},
{"c":"Spain","d":"2010-11-10","r":3.3,"b":2.35},
{"c":"Spain","d":"2010-11-28","r":3.6,"b":2.6},
{"c":"Spain","d":"2010-12-03","r":5.5,"b":3.6},
{"c":"Spain","d":"2010-12-08","r":3.4,"b":2.5},
{"c":"Spain","d":"2010-12-28","r":3.5,"b":2.5},
{"c":"Spain","d":"2011-01-20","r":3.3,"b":2.4},
{"c":"Spain","d":"2011-02-06","r":4.45,"b":2.9},
{"c":"Spain","d":"2011-02-15","r":3.5,"b":2.5},
{"c":"Spain","d":"2011-03-10","r":3.8,"b":2.7},
{"c":"Spain","d":"2011-03-25","r":3.4,"b":2.45},
{"c":"Spain","d":"2011-04-10","r":4.7,"b":3.1},
{"c":"Spain","d":"2011-04-18","r":3.5,"b":2.5},
{"c":"Spain","d":"2011-05-10","r":3.6,"b":2.6},
{"c":"Spain","d":"2011-06-01","r":4.0,"b":2.9},
{"c":"Spain","d":"2011-06-20","r":3.7,"b":2.7},
{"c":"Spain","d":"2011-07-13","r":4.45,"b":3.0},
{"c":"Spain","d":"2011-07-25","r":3.8,"b":2.8},
{"c":"Spain","d":"2011-08-11","r":5.3,"b":3.5},
{"c":"Spain","d":"2011-08-20","r":3.8,"b":2.8},
{"c":"Spain","d":"2011-09-10","r":4.0,"b":2.9},
{"c":"Spain","d":"2011-09-28","r":4.4,"b":3.0},
{"c":"Spain","d":"2011-10-15","r":3.7,"b":2.6},
{"c":"Spain","d":"2011-10-28","r":3.9,"b":2.8},
{"c":"Spain","d":"2011-11-04","r":6.0,"b":4.3},
{"c":"Spain","d":"2011-11-10","r":3.8,"b":2.8},
{"c":"Spain","d":"2011-11-25","r":3.9,"b":2.7},
{"c":"Spain","d":"2011-12-09","r":5.0,"b":3.2},
{"c":"Spain","d":"2011-12-20","r":3.5,"b":2.5},
{"c":"Spain","d":"2012-01-15","r":3.4,"b":2.4},
{"c":"Spain","d":"2012-02-06","r":3.7,"b":2.5},
{"c":"Spain","d":"2012-02-20","r":3.3,"b":2.35},
{"c":"Spain","d":"2012-04-01","r":3.2,"b":2.3},
{"c":"Spain","d":"2012-05-20","r":3.15,"b":2.25},
{"c":"Spain","d":"2012-07-01","r":3.9,"b":2.7},
{"c":"Spain","d":"2012-07-15","r":3.3,"b":2.3},
{"c":"Spain","d":"2012-08-10","r":3.5,"b":2.5},
{"c":"Spain","d":"2012-09-04","r":5.0,"b":3.6},
{"c":"Spain","d":"2012-09-10","r":3.4,"b":2.4},
{"c":"Spain","d":"2012-10-01","r":3.6,"b":2.6},
{"c":"Spain","d":"2012-10-20","r":4.9,"b":3.2},
{"c":"Spain","d":"2012-10-28","r":3.3,"b":2.35},
{"c":"Spain","d":"2012-12-20","r":3.15,"b":2.25},
{"c":"Spain","d":"2013-02-26","r":4.08,"b":2.7},
{"c":"Spain","d":"2013-03-05","r":3.2,"b":2.3},
{"c":"Spain","d":"2013-04-20","r":3.3,"b":2.35},
{"c":"Spain","d":"2013-06-22","r":4.03,"b":2.6},
{"c":"Spain","d":"2013-06-30","r":3.3,"b":2.35},
{"c":"Spain","d":"2013-08-15","r":3.1,"b":2.22},
{"c":"Spain","d":"2013-10-01","r":3.08,"b":2.22},
{"c":"Spain","d":"2013-11-15","r":3.2,"b":2.25},
{"c":"Spain","d":"2014-01-01","r":3.25,"b":2.3},
{"c":"Spain","d":"2014-02-15","r":3.2,"b":2.3},
{"c":"Spain","d":"2014-03-20","r":3.3,"b":2.4},
{"c":"Spain","d":"2014-04-04","r":6.0,"b":4.4},
{"c":"Spain","d":"2014-04-09","r":3.4,"b":2.5},
{"c":"Spain","d":"2014-05-10","r":3.5,"b":2.6},
{"c":"Spain","d":"2014-06-02","r":4.45,"b":3.0},
{"c":"Spain","d":"2014-06-10","r":3.4,"b":2.5},
{"c":"Spain","d":"2014-07-10","r":3.6,"b":2.6},
{"c":"Spain","d":"2014-08-04","r":4.27,"b":2.9},
{"c":"Spain","d":"2014-08-15","r":3.3,"b":2.4},
{"c":"Spain","d":"2014-09-15","r":3.5,"b":2.5},
{"c":"Spain","d":"2014-10-15","r":4.18,"b":2.8},
{"c":"Spain","d":"2014-10-25","r":3.3,"b":2.4},
{"c":"Spain","d":"2014-11-20","r":3.6,"b":2.7},
{"c":"Spain","d":"2014-12-09","r":4.7,"b":3.0},
{"c":"Spain","d":"2014-12-20","r":3.4,"b":2.6},
{"c":"Spain","d":"2015-01-10","r":3.6,"b":2.7},
{"c":"Spain","d":"2015-02-01","r":4.27,"b":3.0},
{"c":"Spain","d":"2015-02-15","r":3.4,"b":2.6},
{"c":"Spain","d":"2015-03-15","r":3.7,"b":2.8},
{"c":"Spain","d":"2015-04-19","r":4.18,"b":2.9},
{"c":"Spain","d":"2015-05-01","r":3.5,"b":2.6},
{"c":"Spain","d":"2015-06-01","r":3.9,"b":2.9},
{"c":"Spain","d":"2015-06-27","r":6.47,"b":4.6},
{"c":"Spain","d":"2015-07-03","r":3.6,"b":2.7},
{"c":"Spain","d":"2015-07-20","r":3.2,"b":2.3},
{"c":"Spain","d":"2015-09-01","r":3.1,"b":2.25},
{"c":"Spain","d":"2015-10-15","r":3.15,"b":2.3},
{"c":"Spain","d":"2015-12-01","r":3.2,"b":2.3},
{"c":"Spain","d":"2015-12-26","r":3.63,"b":2.4},
{"c":"Spain","d":"2016-01-10","r":3.2,"b":2.3},
{"c":"Spain","d":"2016-02-07","r":4.27,"b":2.65},
{"c":"Spain","d":"2016-02-15","r":3.3,"b":2.4},
{"c":"Spain","d":"2016-03-11","r":3.44,"b":2.5},
{"c":"Spain","d":"2016-03-25","r":3.15,"b":2.3},
{"c":"Spain","d":"2016-04-20","r":3.3,"b":2.35},
{"c":"Spain","d":"2016-05-12","r":3.2,"b":2.28}
]},
"transform": [{"fold": ["r", "b"], "as": ["s", "v"]}],
"facet": {
  "field": "c", "type": "nominal",
  "sort": ["Austria", "Belgium", "Denmark", "France", "Germany", "Italy", "Netherlands", "Spain"],
  "header": {"title": null, "labelFont": "Liberation Serif", "labelFontSize": 29, "labelColor": "#000000", "labelPadding": 10}
},
"columns": 2,
"bounds": "flush",
"spacing": {"row": 98, "column": 112},
"resolve": {"axis": {"x": "independent", "y": "independent"}},
"spec": {
  "width": 358,
  "height": 255,
  "mark": {"type": "line", "strokeWidth": 1.3, "strokeDash": [1.5, 2.5], "clip": true},
  "encoding": {
    "x": {
      "field": "d", "type": "temporal",
      "scale": {"type": "utc", "domain": [{"year": 2009, "month": 12, "date": 14, "utc": true}, {"year": 2016, "month": 5, "date": 13, "utc": true}]},
      "axis": {
        "title": null,
        "values": [{"year": 2012, "month": 5, "date": 11, "utc": true}, {"year": 2015, "month": 2, "date": 5, "utc": true}],
        "labelExpr": "utcFormat(datum.value, '%d/%m/%y')",
        "tickSize": -4,
        "labelPadding": 19,
        "labelFlush": false,
        "labelOverlap": false
      }
    },
    "y": {
      "field": "v", "type": "quantitative",
      "scale": {"domain": [0, 14], "nice": false},
      "axis": {"title": "%", "values": [0, 5, 10], "tickSize": -4, "labelPadding": 15, "titlePadding": 12}
    },
    "color": {"field": "s", "type": "nominal", "scale": {"domain": ["r", "b"], "range": ["#ff0000", "#0000ff"]}, "legend": null}
  }
},
"config": {
  "view": {"stroke": null},
  "axis": {
    "grid": false,
    "domainColor": "#262626", "domainWidth": 1.2,
    "tickColor": "#262626", "tickWidth": 1.2,
    "labelColor": "#262626", "labelFont": "Liberation Sans", "labelFontSize": 27,
    "titleColor": "#262626", "titleFont": "Liberation Serif", "titleFontSize": 30, "titleFontWeight": "normal"
  }
}
}
